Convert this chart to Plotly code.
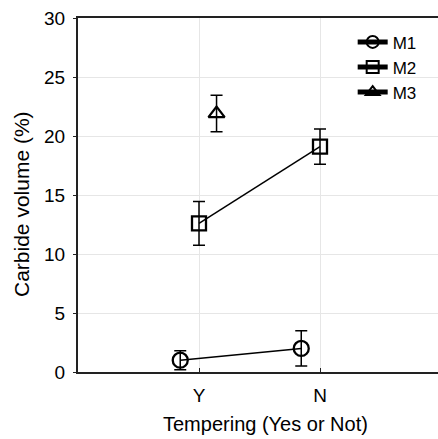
import plotly.graph_objects as go

categories = ["Y", "N"]
series_names = ["M1", "M2", "M3"]
m1_values = [1.0, 2.0]
m1_errors = [0.8, 1.5]
m2_values = [12.6, 19.1]
m2_errors = [1.85, 1.5]
m3_values = [21.9]
m3_errors = [1.55]
x_title = "Tempering (Yes or Not)"
y_title = "Carbide volume (%)"

# dodge per series (category units) and marker symbols
dodge = {"M1": -0.155, "M2": 0.0, "M3": 0.145}
symbols = {"M1": "circle-open", "M2": "square-open", "M3": "triangle-up-open"}
sizes = {"M1": 15, "M2": 14, "M3": 14}

data = {"M1": (m1_values, m1_errors), "M2": (m2_values, m2_errors), "M3": (m3_values, m3_errors)}

fig = go.Figure()
for name in series_names:
    vals, errs = data[name]
    xs = [i + 1 + dodge[name] for i in range(len(vals))]
    fig.add_trace(go.Scatter(
        x=xs, y=vals, name=name,
        mode="lines+markers",
        line=dict(color="black", width=1.5),
        marker=dict(symbol=symbols[name], size=sizes[name], color="black",
                    line=dict(color="black", width=2.3)),
        error_y=dict(type="data", array=errs, visible=True, color="black",
                     thickness=1.5, width=6),
    ))

font_family = "Liberation Sans, Arial, sans-serif"
fig.update_layout(
    width=438, height=439,
    margin=dict(l=78, r=0, t=18, b=67),
    paper_bgcolor="white", plot_bgcolor="white",
    font=dict(family=font_family, color="black", size=18),
    showlegend=True,
    legend=dict(x=0.763, y=0.982, xanchor="left", yanchor="top",
                bgcolor="rgba(0,0,0,0)", font=dict(size=17),
                tracegroupgap=0, itemsizing="constant"),
    xaxis=dict(
        range=[0, 360 / 121], tickvals=[1, 2], ticktext=categories,
        showgrid=True, gridcolor="#e6e6e6", gridwidth=1,
        showline=True, linecolor="#222", linewidth=2, mirror=True,
        ticks="inside", ticklen=4, tickcolor="#222",
        zeroline=False, ticklabelstandoff=5,
        tickfont=dict(size=19),
    ),
    yaxis=dict(
        range=[0, 30], tickvals=[0, 5, 10, 15, 20, 25, 30],
        showgrid=True, gridcolor="#e6e6e6", gridwidth=1,
        showline=True, linecolor="#222", linewidth=2, mirror=False,
        ticks="outside", ticklen=3, tickcolor="#222",
        zeroline=False, ticklabelstandoff=4,
        tickfont=dict(size=19),
    ),
    annotations=[
        dict(text=x_title, xref="paper", yref="paper", x=0.5, y=0,
             xanchor="center", yanchor="middle", xshift=7, yshift=-52,
             showarrow=False, font=dict(size=20)),
        dict(text=y_title, xref="paper", yref="paper", x=0, y=0.4746,
             xanchor="center", yanchor="middle", xshift=-56, textangle=-90,
             showarrow=False, font=dict(size=21)),
    ],
)

fig.write_html("out.html")
